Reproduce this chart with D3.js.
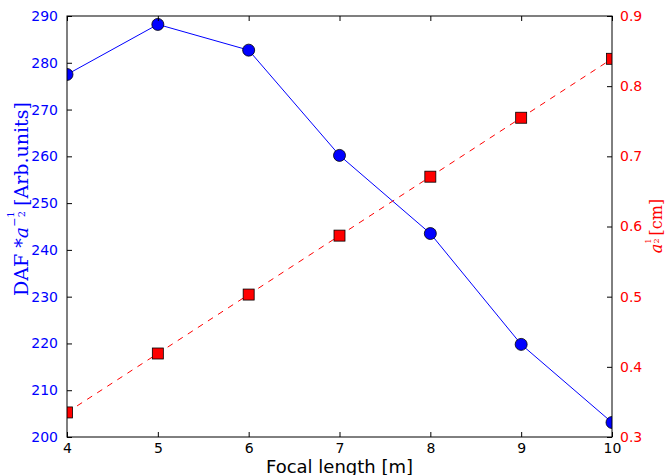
<!DOCTYPE html>
<html><head><meta charset="utf-8">
<script src="https://cdn.jsdelivr.net/npm/d3@7"></script>
<style>body{margin:0;background:#fff}</style>
</head><body>
<svg id="c" width="665" height="475"></svg>
<script>
const focal = [4, 5, 6, 7, 8, 9, 10];
const dafValues = [277.5, 288.2, 282.7, 260.2, 243.5, 219.8, 203.1];
const aValues = [0.335, 0.419, 0.503, 0.587, 0.671, 0.755, 0.839];
const xTicks = [4, 5, 6, 7, 8, 9, 10];
const leftTicks = [200, 210, 220, 230, 240, 250, 260, 270, 280, 290];
const rightTicks = [0.3, 0.4, 0.5, 0.6, 0.7, 0.8, 0.9];

const L = 67, R = 612, T = 16, B = 437;
const svg = d3.select("#c");
const x = d3.scaleLinear().domain([4, 10]).range([L, R]);
const yL = d3.scaleLinear().domain([200, 290]).range([B, T]);
const yR = d3.scaleLinear().domain([0.3, 0.9]).range([B, T]);

svg.append("defs").append("clipPath").attr("id", "clip")
  .append("rect").attr("x", L).attr("y", T).attr("width", R - L).attr("height", B - T);

const plot = svg.append("g").attr("clip-path", "url(#clip)");

// blue series
plot.append("path").datum(focal.map((f, i) => [f, dafValues[i]]))
  .attr("d", d3.line().x(d => x(d[0])).y(d => yL(d[1])))
  .attr("fill", "none").attr("stroke", "#0000ff").attr("stroke-width", 1);
plot.selectAll("circle.b").data(focal.map((f, i) => [f, dafValues[i]])).enter()
  .append("circle").attr("cx", d => x(d[0])).attr("cy", d => yL(d[1])).attr("r", 6)
  .attr("fill", "#0000ff").attr("stroke", "#000").attr("stroke-width", 0.8);

// red series
plot.append("path").datum(focal.map((f, i) => [f, aValues[i]]))
  .attr("d", d3.line().x(d => x(d[0])).y(d => yR(d[1])))
  .attr("fill", "none").attr("stroke", "#ff0000").attr("stroke-width", 1)
  .attr("stroke-dasharray", "6,6");
plot.selectAll("rect.r").data(focal.map((f, i) => [f, aValues[i]])).enter()
  .append("rect").attr("x", d => x(d[0]) - 5.5).attr("y", d => yR(d[1]) - 5.5)
  .attr("width", 11).attr("height", 11)
  .attr("fill", "#ff0000").attr("stroke", "#000").attr("stroke-width", 0.8);

// frame
svg.append("rect").attr("x", L).attr("y", T).attr("width", R - L).attr("height", B - T)
  .attr("fill", "none").attr("stroke", "#000").attr("stroke-width", 1);

const font = "'DejaVu Sans', sans-serif";
const bottomAxis = d3.axisBottom(x).tickValues(xTicks).tickSize(-5).tickPadding(6).tickFormat(d3.format("d"));
const gB = svg.append("g").attr("transform", `translate(0,${B})`).call(bottomAxis);
const topAxis = d3.axisTop(x).tickValues(xTicks).tickSize(-5).tickFormat("");
const gT = svg.append("g").attr("transform", `translate(0,${T})`).call(topAxis);
const leftAxis = d3.axisLeft(yL).tickValues(leftTicks).tickSize(-5).tickPadding(9).tickFormat(d3.format("d"));
const gL = svg.append("g").attr("transform", `translate(${L},0)`).call(leftAxis);
const rightAxis = d3.axisRight(yR).tickValues(rightTicks).tickSize(-5).tickPadding(8).tickFormat(d3.format(".1f"));
const gR = svg.append("g").attr("transform", `translate(${R},0)`).call(rightAxis);

[gB, gT, gL, gR].forEach(g => {
  g.select(".domain").remove();
  g.selectAll("line").attr("stroke", "#000").attr("stroke-width", 1);
  g.selectAll("text").attr("font-family", font).attr("font-size", 14);
});
gB.selectAll("text").attr("fill", "#000");
gL.selectAll("text").attr("fill", "#0000ff");
gR.selectAll("text").attr("fill", "#ff0000");

// x label
svg.append("text").attr("x", (L + R) / 2).attr("y", 473).attr("text-anchor", "middle")
  .attr("font-family", font).attr("font-size", 18).attr("fill", "#000").text("Focal length [m]");

// left y label
const serif = "'DejaVu Serif', 'Liberation Serif', serif";
const ll = svg.append("text").attr("transform", "translate(28,199) rotate(-90)")
  .attr("text-anchor", "middle").attr("font-family", serif).attr("font-size", 19).attr("fill", "#0000ff");
ll.append("tspan").text("DAF ");
ll.append("tspan").text("*");
ll.append("tspan").attr("font-style", "italic").text("a");
ll.append("tspan").attr("font-size", 11).attr("dy", -10).text("−");
ll.append("tspan").attr("font-size", 10).attr("dy", -4).attr("dx", 0).text("1");
ll.append("tspan").attr("font-size", 10).attr("dy", 11).attr("dx", -6).text("2");
ll.append("tspan").attr("dy", 3).attr("dx", 5).text("[Arb.units]");

// right y label
const rl = svg.append("text").attr("transform", "translate(662,226) rotate(-90)")
  .attr("text-anchor", "middle").attr("font-family", serif).attr("font-size", 16).attr("fill", "#ff0000");
rl.append("tspan").attr("font-style", "italic").text("a");
rl.append("tspan").attr("font-size", 8).attr("dy", -11).text("1");
rl.append("tspan").attr("font-size", 8).attr("dy", 8).attr("dx", -5).text("2");
rl.append("tspan").attr("dy", 3).attr("dx", 3).text("[cm]");
</script>
</body></html>
